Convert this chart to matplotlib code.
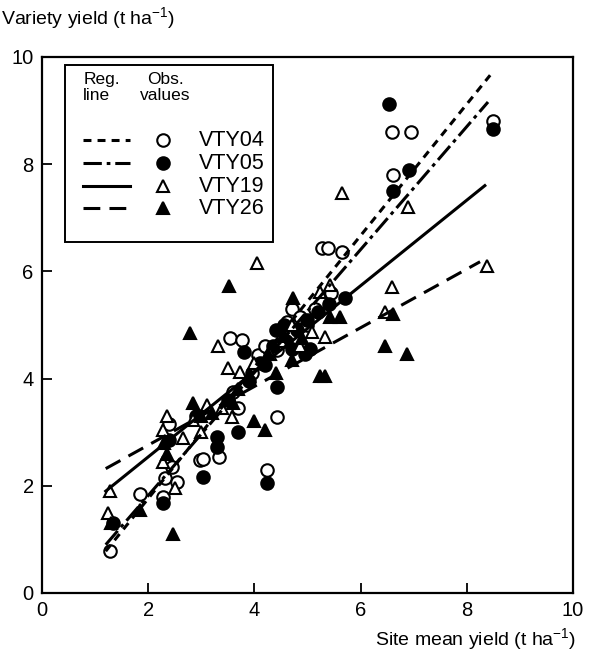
import numpy as np
import matplotlib
matplotlib.use("Agg")
import matplotlib.pyplot as plt
from matplotlib.patches import Rectangle
from matplotlib.lines import Line2D

plt.rcParams['font.family'] = ['Liberation Sans', 'DejaVu Sans']
plt.rcParams['mathtext.fontset'] = 'custom'
plt.rcParams['mathtext.rm'] = 'Liberation Sans'
plt.rcParams['mathtext.it'] = 'Liberation Sans'
plt.rcParams['mathtext.default'] = 'regular'

varieties = ["VTY04", "VTY05", "VTY19", "VTY26"]

# Observed values (site mean yield, variety yield)
vty04_x = [1.28, 1.85, 2.28, 2.32, 2.45, 2.54, 2.98, 3.03, 3.33, 2.40, 3.69, 3.54, 3.77, 4.07,
           4.43, 4.43, 4.24, 3.60, 4.50, 4.70, 5.00, 5.27, 5.39, 5.65, 4.85, 5.45, 6.59, 6.95,
           6.61, 8.49, 3.95, 4.20, 4.62, 5.15]
vty04_y = [0.78, 1.85, 1.79, 2.15, 2.35, 2.07, 2.48, 2.50, 2.54, 3.15, 3.45, 4.76, 4.72, 4.44,
           4.53, 3.28, 2.30, 3.75, 4.90, 5.30, 5.00, 6.44, 6.44, 6.36, 5.15, 5.60, 8.60, 8.60,
           7.80, 8.80, 4.10, 4.60, 5.05, 5.30]

vty05_x = [1.34, 2.28, 3.03, 3.69, 3.30, 3.30, 4.24, 4.42, 5.05, 3.80, 4.40, 4.60, 4.80,
           5.00, 5.40, 5.70, 6.61, 6.91, 6.54, 8.49, 2.40, 3.90, 4.20, 2.90, 3.50, 4.95,
           4.55, 4.70, 4.35, 5.20, 4.10]
vty05_y = [1.30, 1.68, 2.16, 3.00, 2.91, 2.72, 2.05, 3.84, 4.55, 4.50, 4.90, 4.70, 4.90,
           5.10, 5.40, 5.50, 7.50, 7.89, 9.12, 8.65, 2.85, 3.95, 4.25, 3.30, 3.60, 4.45,
           5.00, 4.55, 4.60, 5.25, 4.30]

vty19_x = [1.24, 1.28, 2.28, 2.35, 2.28, 2.50, 2.84, 3.00, 3.39, 3.58, 3.31, 3.50, 3.73,
           4.05, 5.65, 5.24, 5.42, 5.08, 5.33, 6.59, 6.46, 6.90, 8.38, 4.50, 4.70, 4.00,
           3.10, 2.65, 4.85, 4.30]
vty19_y = [1.50, 1.90, 2.44, 3.30, 3.04, 1.96, 3.23, 3.00, 3.45, 3.28, 4.60, 4.20, 4.12,
           6.15, 7.46, 5.62, 5.75, 4.87, 4.78, 5.70, 5.25, 7.20, 6.10, 4.70, 5.00, 4.30,
           3.50, 2.90, 4.60, 4.45]

vty26_x = [1.85, 2.47, 2.35, 2.79, 2.84, 3.00, 3.53, 4.00, 4.20, 4.73, 5.42, 5.61, 5.24,
           5.33, 6.46, 6.87, 6.61, 3.70, 4.40, 4.70, 2.30, 3.20, 1.30, 3.90, 4.55,
           4.25, 4.90, 3.60]
vty26_y = [1.55, 1.10, 2.60, 4.85, 3.55, 3.30, 5.72, 3.20, 3.05, 5.50, 5.15, 5.15, 4.05,
           4.05, 4.60, 4.45, 5.20, 3.80, 4.10, 4.35, 2.80, 3.35, 1.30, 4.05, 4.80,
           4.45, 4.75, 3.55]

# Regression lines: (x start, y start) and (x end, y end)
reg_x0 = [1.20, 1.20, 1.20, 1.20]
reg_y0 = [0.78, 0.90, 1.90, 2.32]
reg_x1 = [8.44, 8.40, 8.34, 8.25]
reg_y1 = [9.66, 9.16, 7.60, 6.18]

xs = [vty04_x, vty05_x, vty19_x, vty26_x]
ys = [vty04_y, vty05_y, vty19_y, vty26_y]

markers = ['o', 'o', '^', '^']
faces = ['white', 'black', 'white', 'black']
line_styles = [(0, (2.6, 2.0)), (0, (6, 1.6, 1.2, 1.6)), '-', (0, (5.5, 3.0))]

fig = plt.figure(figsize=(5.89, 6.61), dpi=100)
ax = fig.add_axes([0.0713, 0.1029, 0.9015, 0.8109])

for i in range(4):
    ax.plot(xs[i], ys[i], linestyle='none', marker=markers[i], ms=9,
            mfc=faces[i], mec='black', mew=1.5, zorder=3)

for i in range(4):
    ax.plot([reg_x0[i], reg_x1[i]], [reg_y0[i], reg_y1[i]], color='black',
            lw=2.2, linestyle=line_styles[i], zorder=4)

ax.set_xlim(0, 10)
ax.set_ylim(0, 10)
ax.set_xticks([0, 2, 4, 6, 8, 10])
ax.set_yticks([0, 2, 4, 6, 8, 10])
ax.tick_params(direction='in', length=7, width=1.3, labelsize=14.5, pad=6)
for s in ax.spines.values():
    s.set_linewidth(1.6)

fig.text(0.002, 0.972, r'Variety yield (t ha$^{-1}$)', fontsize=14, ha='left', va='center')
fig.text(0.978, 0.033, r'Site mean yield (t ha$^{-1}$)', fontsize=14, ha='right', va='center')

# Legend drawn by hand
T = ax.transAxes
ax.add_patch(Rectangle((0.043, 0.655), 0.392, 0.330, transform=T, fill=True,
                       facecolor='white', edgecolor='black', lw=1.4, zorder=5))
ax.text(0.113, 0.958, 'Reg.', transform=T, fontsize=12.5, ha='center', va='center', zorder=6)
ax.text(0.103, 0.928, 'line', transform=T, fontsize=12.5, ha='center', va='center', zorder=6)
ax.text(0.232, 0.958, 'Obs.', transform=T, fontsize=12.5, ha='center', va='center', zorder=6)
ax.text(0.232, 0.928, 'values', transform=T, fontsize=12.5, ha='center', va='center', zorder=6)
row_y = [0.845, 0.802, 0.759, 0.718]
for i in range(4):
    ax.add_line(Line2D([0.077, 0.166], [row_y[i], row_y[i]], transform=T, color='black',
                       lw=2.2, linestyle=line_styles[i], zorder=6))
    ax.plot([0.228], [row_y[i]], transform=T, marker=markers[i], ms=9,
            mfc=faces[i], mec='black', mew=1.5, zorder=6, linestyle='none')
    ax.text(0.295, row_y[i], varieties[i], transform=T, fontsize=15.5,
            ha='left', va='center', zorder=6)

fig.savefig('out.png', dpi=100)
